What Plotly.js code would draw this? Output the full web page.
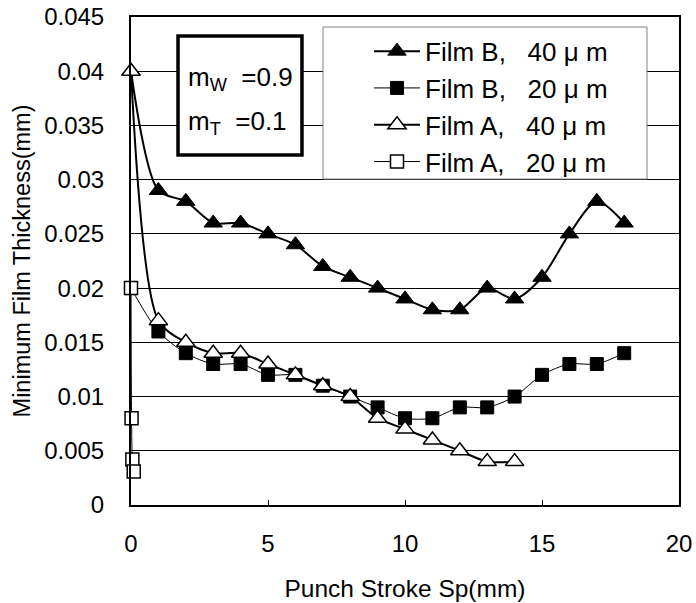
<!DOCTYPE html>
<html>
<head>
<meta charset="utf-8">
<script src="https://cdn.plot.ly/plotly-3.0.1.min.js"></script>
<style>
html,body{margin:0;padding:0;background:#fff;}
#chart{width:696px;height:603px;}
</style>
</head>
<body>
<div id="chart"></div>
<script>
// Film B, 40 um
var xB40 = [0, 1, 2, 3, 4, 5, 6, 7, 8, 9, 10, 11, 12, 13, 14, 15, 16, 17, 18];
var yB40 = [0.040, 0.029, 0.028, 0.026, 0.026, 0.025, 0.024, 0.022, 0.021, 0.020, 0.019, 0.018, 0.018, 0.020, 0.019, 0.021, 0.025, 0.028, 0.026];
// Film B, 20 um
var xB20 = [0, 1, 2, 3, 4, 5, 6, 7, 8, 9, 10, 11, 12, 13, 14, 15, 16, 17, 18];
var yB20 = [0.020, 0.016, 0.014, 0.013, 0.013, 0.012, 0.012, 0.011, 0.010, 0.009, 0.008, 0.008, 0.009, 0.009, 0.010, 0.012, 0.013, 0.013, 0.014];
// Film A, 40 um
var xA40 = [0, 1, 2, 3, 4, 5, 6, 7, 8, 9, 10, 11, 12, 13, 14];
var yA40 = [0.040, 0.017, 0.015, 0.014, 0.014, 0.013, 0.012, 0.011, 0.010, 0.008, 0.007, 0.006, 0.005, 0.004, 0.004];
// Film A, 20 um
var xA20 = [0, 0.02, 0.05, 0.1];
var yA20 = [0.020, 0.008, 0.0042, 0.0031];

var names = ['Film B,   40 \u03bc m', 'Film B,   20 \u03bc m', 'Film A,   40 \u03bc m', 'Film A,   20 \u03bc m'];
var xTicks = [0, 5, 10, 15, 20];
var yTicks = [0, 0.005, 0.01, 0.015, 0.02, 0.025, 0.03, 0.035, 0.04, 0.045];
var yTickText = ['0', '0.005', '0.01', '0.015', '0.02', '0.025', '0.03', '0.035', '0.04', '0.045'];

var FONT = 'Liberation Sans, Arial, sans-serif';

var traces = [
  {x: xB40, y: yB40, name: names[0], mode: 'lines+markers', legendgroup: 'g1', cliponaxis: false,
   line: {color: '#000', width: 2, shape: 'spline', smoothing: 0.8},
   marker: {symbol: 'triangle-up', size: 16, color: '#000', line: {color: '#000', width: 1}}},
  {x: xB20, y: yB20, name: names[1], mode: 'lines+markers', legendgroup: 'g2', cliponaxis: false,
   line: {color: '#000', width: 1, shape: 'spline', smoothing: 0.8},
   marker: {symbol: 'square', size: 13, color: '#000', line: {color: '#000', width: 1}}},
  {x: xA40, y: yA40, name: names[2], mode: 'lines+markers', legendgroup: 'g3', cliponaxis: false,
   line: {color: '#000', width: 2, shape: 'spline', smoothing: 0.8},
   marker: {symbol: 'triangle-up', size: 16, color: '#fff', line: {color: '#000', width: 1.5}}},
  {x: xA20, y: yA20, name: names[3], mode: 'lines+markers', legendgroup: 'g4', cliponaxis: false,
   line: {color: '#000', width: 1, shape: 'spline', smoothing: 0.8},
   marker: {symbol: 'square', size: 13, color: '#fff', line: {color: '#000', width: 1.5}}}
];

var layout = {
  width: 696, height: 603,
  margin: {l: 131, r: 17, t: 17, b: 98},
  paper_bgcolor: '#fff', plot_bgcolor: '#fff',
  font: {family: FONT, size: 24, color: '#000'},
  showlegend: true,
  legend: {x: (369 - 131) / 548, xanchor: 'left', y: 0.978, yanchor: 'top',
           bgcolor: 'rgba(0,0,0,0)', borderwidth: 0, itemwidth: 46,
           traceorder: 'grouped', tracegroupgap: 0,
           font: {family: FONT, size: 26, color: '#000'}},
  xaxis: {range: [0, 20], tickvals: xTicks, ticktext: xTicks.map(String),
          showgrid: false, zeroline: false, showline: true, mirror: true,
          linecolor: '#000', linewidth: 2, ticks: 'inside', ticklen: 5, tickcolor: '#000',
          ticklabelstandoff: 16,
          tickfont: {family: FONT, size: 24},
          title: {text: 'Punch Stroke Sp(mm)', font: {family: FONT, size: 24.5}, standoff: 24}},
  yaxis: {range: [0, 0.045], tickvals: yTicks, ticktext: yTickText,
          showgrid: true, gridcolor: '#000', gridwidth: 1, zeroline: false,
          showline: true, mirror: true, linecolor: '#000', linewidth: 2,
          ticks: '', ticklabelstandoff: 20,
          tickfont: {family: FONT, size: 24},
          title: {text: 'Minimum Film Thickness(mm)', font: {family: FONT, size: 23.5}, standoff: 7}},
  shapes: [
    {type: 'rect', xref: 'paper', yref: 'paper', x0: 0.3504, x1: 0.9416, y0: 0.668, y1: 0.9795,
     line: {color: '#808080', width: 1}, fillcolor: '#fff', layer: 'above'},
    {type: 'rect', xref: 'paper', yref: 'paper', x0: 0.0858, x1: 0.312, y0: 0.717, y1: 0.961,
     line: {color: '#000', width: 3.5}, fillcolor: '#fff', layer: 'above'}
  ],
  annotations: [
    {xref: 'paper', yref: 'paper', x: 0.100, y: 0.875, xanchor: 'left', yanchor: 'middle',
     text: 'm<sub>W</sub>  =0.9', showarrow: false, font: {family: FONT, size: 26, color: '#000'}},
    {xref: 'paper', yref: 'paper', x: 0.100, y: 0.783, xanchor: 'left', yanchor: 'middle',
     text: 'm<sub>T</sub>  =0.1', showarrow: false, font: {family: FONT, size: 26, color: '#000'}}
  ]
};

Plotly.newPlot('chart', traces, layout, {displayModeBar: false, staticPlot: true});
</script>
</body>
</html>
